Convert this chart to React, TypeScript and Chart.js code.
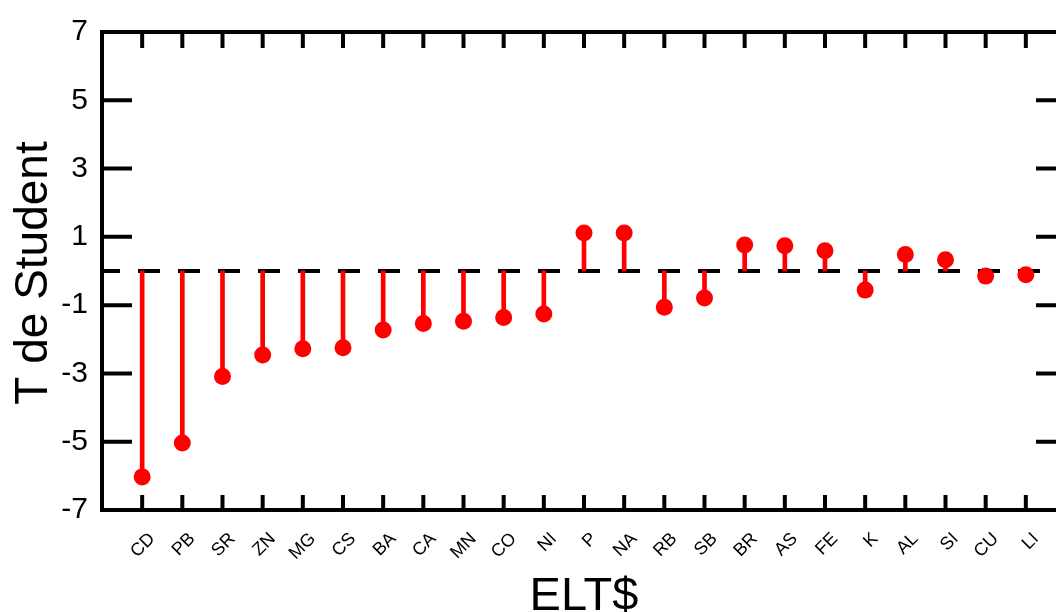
import React, { useEffect, useRef } from "react";
import { Chart, registerables } from "chart.js";

Chart.register(...registerables);

const categories = ["CD", "PB", "SR", "ZN", "MG", "CS", "BA", "CA", "MN", "CO", "NI", "P", "NA", "RB", "SB", "BR", "AS", "FE", "K", "AL", "SI", "CU", "LI"];
const tStudent = [-6.03, -5.04, -3.09, -2.46, -2.28, -2.25, -1.73, -1.54, -1.47, -1.36, -1.26, 1.11, 1.11, -1.06, -0.79, 0.76, 0.74, 0.59, -0.56, 0.48, 0.33, -0.15, -0.11];
const yTicks = [-7, -5, -3, -1, 1, 3, 5, 7];
const xTitle = "ELT$";
const yTitle = "T de Student";

const FONT = "'Liberation Sans', Arial, sans-serif";

const framePlugin = {
  id: "framePlugin",
  afterDraw(chart: any) {
    const { ctx, chartArea } = chart;
    const { left, right, top, bottom } = chartArea;
    const xs = chart.scales.x;
    const ys = chart.scales.y;
    ctx.save();
    ctx.strokeStyle = "#000";
    ctx.lineWidth = 4;
    ctx.lineCap = "butt";
    // frame
    ctx.strokeRect(left, top, right - left, bottom - top);
    // y ticks (inside, both sides)
    ctx.beginPath();
    yTicks.forEach((v) => {
      const py = ys.getPixelForValue(v);
      ctx.moveTo(left, py);
      ctx.lineTo(left + 30, py);
      ctx.moveTo(right, py);
      ctx.lineTo(right - 30, py);
    });
    // x ticks (inside, top and bottom)
    categories.forEach((_, i) => {
      const px = xs.getPixelForValue(i);
      ctx.moveTo(px, bottom);
      ctx.lineTo(px, bottom - 15);
      ctx.moveTo(px, top);
      ctx.lineTo(px, top + 16);
    });
    ctx.stroke();

    // x category labels, rotated
    ctx.fillStyle = "#000";
    ctx.font = `18px ${FONT}`;
    ctx.textAlign = "right";
    ctx.textBaseline = "middle";
    categories.forEach((c, i) => {
      const px = xs.getPixelForValue(i);
      ctx.save();
      ctx.translate(px + 10, 536);
      ctx.rotate(-Math.PI / 4);
      ctx.fillText(c, 0, 0);
      ctx.restore();
    });

    // x title
    ctx.font = `47px ${FONT}`;
    ctx.textAlign = "center";
    ctx.textBaseline = "alphabetic";
    ctx.fillText(xTitle, (left + right) / 2, 610);

    // y title
    ctx.save();
    ctx.translate(47, 273);
    ctx.rotate(-Math.PI / 2);
    ctx.font = `46px ${FONT}`;
    ctx.textAlign = "center";
    ctx.textBaseline = "alphabetic";
    ctx.fillText(yTitle, 0, 0);
    ctx.restore();

    ctx.restore();
  },
};

export default function App() {
  const canvasRef = useRef<HTMLCanvasElement | null>(null);

  useEffect(() => {
    const canvas = canvasRef.current;
    if (!canvas) return;
    const points = tStudent.map((v, i) => ({ x: i, y: v }));
    const stems = tStudent.map((v, i) => ({ x: i, y: [0, v] }));
    const chart = new Chart(canvas, {
      type: "scatter",
      data: {
        datasets: [
          {
            type: "scatter",
            data: points,
            pointRadius: 8.5,
            pointHoverRadius: 8.5,
            backgroundColor: "#ff0000",
            borderColor: "#ff0000",
            borderWidth: 0,
          } as any,
          {
            type: "bar",
            data: stems,
            backgroundColor: "#ff0000",
            borderWidth: 0,
            barThickness: 4,
          } as any,
          {
            type: "line",
            data: [
              { x: -1, y: 0 },
              { x: categories.length, y: 0 },
            ],
            borderColor: "#000",
            borderWidth: 4,
            borderDash: [22, 18],
            borderDashOffset: 4,
            pointRadius: 0,
            fill: false,
          } as any,
        ],
      },
      options: {
        responsive: false,
        animation: false,
        events: [],
        layout: { padding: { left: 0, top: 31, right: 24, bottom: 0 } },
        plugins: {
          legend: { display: false },
          tooltip: { enabled: false },
          title: { display: false },
        },
        scales: {
          x: {
            type: "linear",
            min: -1,
            max: categories.length,
            offset: false,
            grid: { display: false, drawTicks: false },
            border: { display: false },
            ticks: { display: false },
            afterFit: (s: any) => {
              s.height = 102;
            },
          },
          y: {
            type: "linear",
            min: -7,
            max: 7,
            grid: { display: false, drawTicks: false },
            border: { display: false },
            afterBuildTicks: (s: any) => {
              s.ticks = yTicks.map((v) => ({ value: v }));
            },
            ticks: {
              padding: 14,
              color: "#000",
              font: { family: FONT, size: 30 },
              callback: (v: any) => String(v),
            },
            afterFit: (s: any) => {
              s.width = 102;
            },
          },
        },
      } as any,
      plugins: [framePlugin],
    });
    return () => chart.destroy();
  }, []);

  return (
    <div
      style={{
        position: "fixed",
        left: 0,
        top: 0,
        width: 1056,
        height: 612,
        overflow: "hidden",
        background: "#fff",
      }}
    >
      <canvas ref={canvasRef} width={1090} height={612} style={{ width: 1090, height: 612, display: "block" }} />
    </div>
  );
}
